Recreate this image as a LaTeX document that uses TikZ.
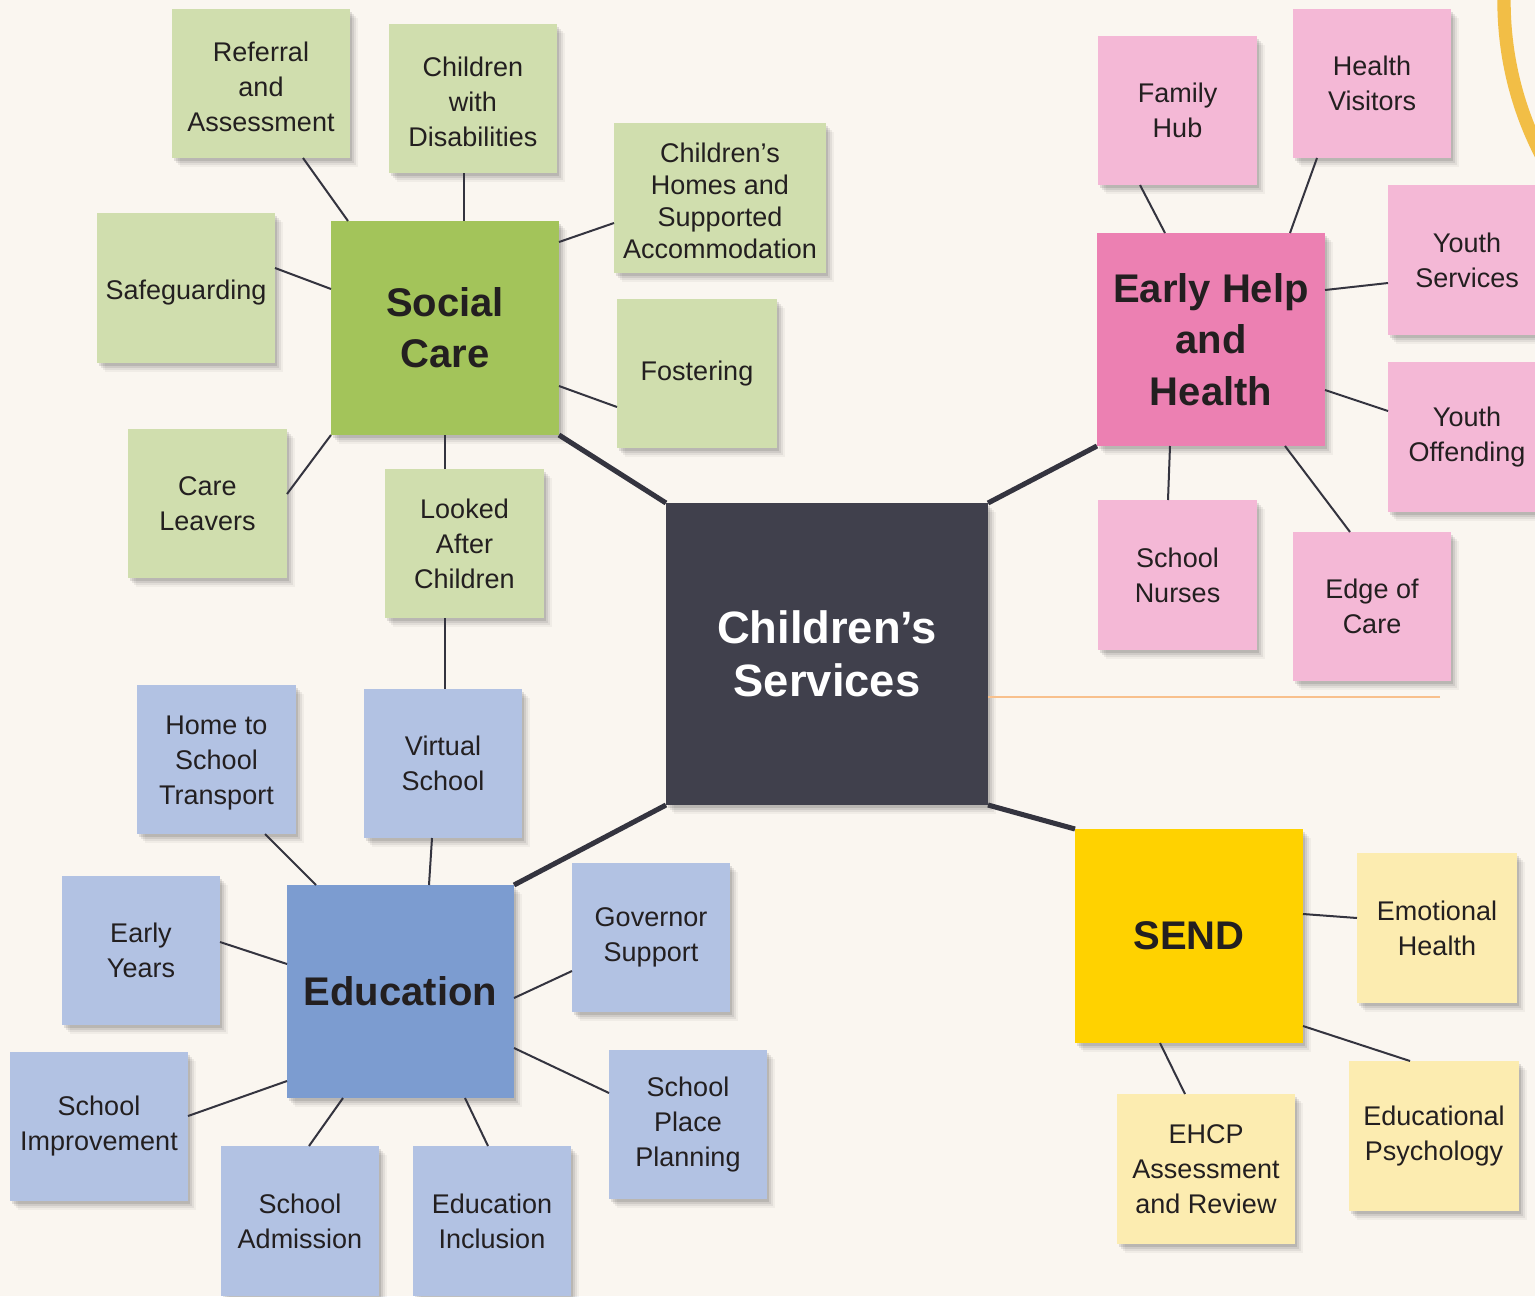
\documentclass[tikz,border=0pt]{standalone}
\usepackage{fontspec}
\setmainfont{Liberation Sans}
\usetikzlibrary{shadows}
\definecolor{bg}{HTML}{FAF6F0}
\definecolor{txt}{HTML}{231F20}
\definecolor{conn}{HTML}{34343F}
\definecolor{csdark}{HTML}{40404C}
\definecolor{gmain}{HTML}{A3C45A}
\definecolor{glight}{HTML}{D0DEAE}
\definecolor{pmain}{HTML}{EC80B2}
\definecolor{plight}{HTML}{F4B8D6}
\definecolor{bmain}{HTML}{7C9CD0}
\definecolor{blight}{HTML}{B2C2E3}
\definecolor{ymain}{HTML}{FFD200}
\definecolor{ylight}{HTML}{FCECB0}
\definecolor{arccol}{HTML}{F2BE46}
\definecolor{orangeline}{HTML}{F8C08C}
\newcommand{\subfont}{\fontsize{20.25}{26.25}\selectfont}
\newcommand{\mainfont}{\fontsize{30}{38.5}\selectfont\bfseries}
\newcommand{\csfont}{\fontsize{34}{40}\selectfont\bfseries}
% \bx{name}{x1}{y1}{x2}{y2}{style}{text}  (pixel corners)
\newcommand{\bx}[7]{%
  \pgfmathsetmacro{\bxw}{(#4-#2)*0.75}%
  \pgfmathsetmacro{\bxh}{(#5-#3)*0.75}%
  \pgfmathsetmacro{\bxx}{(#2+#4)/2}%
  \pgfmathsetmacro{\bxy}{(#3+#5)/2}%
  \node[#6,minimum width=\bxw pt,minimum height=\bxh pt] (#1) at (\bxx,\bxy) {#7};}
\newcommand{\fs}{\rule{0pt}{19pt}}
\begin{document}
\begin{tikzpicture}[x=0.75pt,y=-0.75pt,
  shad/.style={
    general shadow={shadow xshift=1.5pt,shadow yshift=-2pt,fill=black,opacity=0.10},
    general shadow={shadow xshift=3pt,shadow yshift=-3.5pt,fill=black,opacity=0.08},
    general shadow={shadow xshift=4.5pt,shadow yshift=-5pt,fill=black,opacity=0.06},
    general shadow={shadow xshift=6pt,shadow yshift=-6.5pt,fill=black,opacity=0.04}},
  sub/.style={fill=#1,inner sep=0pt,outer sep=0pt,align=center,text=txt,font=\subfont,shad},
  mainbox/.style={fill=#1,inner sep=0pt,outer sep=0pt,align=center,text=txt,font=\mainfont,shad},
  csbox/.style={fill=csdark,inner sep=0pt,outer sep=0pt,align=center,text=white,font=\csfont,shad},
  thinline/.style={draw=conn,line width=1.5pt},
  thickline/.style={draw=conn,line width=3.8pt},
  arcline/.style={draw=arccol,line width=10pt},
  oline/.style={draw=orangeline,line width=1.3pt}]
\useasboundingbox (0,0) rectangle (1535,1296);
\clip (0,0) rectangle (1535,1296);
\fill[bg] (0,0) rectangle (1535,1296);
\draw[arcline] (1840,1) circle[radius=336];

% centre
\bx{cs}{666}{503}{988}{805}{csbox}{Children’s\\Services}
\coordinate (oend) at (1440,697);
\draw[oline] (cs.east |- 0,697) -- (oend);

% Social care
\bx{sc}{331}{221}{559}{435}{mainbox=gmain}{Social\\Care}
\bx{ref}{172}{9}{350}{158}{sub=glight}{\fs Referral\\and\\Assessment}
\bx{cwd}{389}{24}{557}{173}{sub=glight}{\fs Children\\with\\Disabilities}
\bx{homes}{614}{123}{826}{273}{sub=glight,font=\fontsize{20.25}{24}\selectfont}{\fs Children’s\\Homes and\\Supported\\Accommodation}
\bx{safe}{97}{213}{275}{363}{sub=glight}{\rule{0pt}{22pt}Safeguarding}
\bx{fost}{617}{299}{777}{448}{sub=glight}{Fostering}
\bx{care}{128}{429}{287}{578}{sub=glight}{Care\\Leavers}
\bx{lac}{385}{469}{544}{618}{sub=glight}{Looked\\After\\Children}

% Early help
\bx{eh}{1097}{233}{1325}{446}{mainbox=pmain}{Early Help\\and\\Health}
\bx{fh}{1098}{36}{1257}{185}{sub=plight}{Family\\Hub}
\bx{hv}{1293}{9}{1451}{158}{sub=plight}{Health\\Visitors}
\bx{ys}{1388}{185}{1546}{335}{sub=plight}{Youth\\Services}
\bx{yo}{1388}{362}{1546}{512}{sub=plight}{Youth\\Offending}
\bx{sn}{1098}{500}{1257}{650}{sub=plight}{School\\Nurses}
\bx{eoc}{1293}{532}{1451}{681}{sub=plight}{Edge of\\Care}

% Education
\bx{edu}{287}{885}{514}{1098}{mainbox=bmain}{Education}
\bx{hst}{137}{685}{296}{834}{sub=blight}{\fs Home to\\School\\Transport}
\bx{vs}{364}{689}{522}{838}{sub=blight}{Virtual\\School}
\bx{ey}{62}{876}{220}{1025}{sub=blight}{Early\\Years}
\bx{gov}{572}{863}{730}{1012}{sub=blight}{Governor\\Support}
\bx{si}{10}{1052}{188}{1201}{sub=blight}{School\\Improvement}
\bx{sa}{221}{1146}{379}{1296}{sub=blight}{School\\Admission}
\bx{ei}{413}{1146}{571}{1296}{sub=blight}{Education\\Inclusion}
\bx{spp}{609}{1050}{767}{1199}{sub=blight}{School\\Place\\Planning}

% SEND
\bx{send}{1075}{829}{1303}{1043}{mainbox=ymain}{SEND}
\bx{emo}{1357}{853}{1517}{1003}{sub=ylight}{Emotional\\Health}
\bx{psy}{1349}{1061}{1519}{1211}{sub=ylight}{Educational\\Psychology}
\bx{ehcp}{1117}{1094}{1295}{1244}{sub=ylight}{EHCP\\Assessment\\and Review}

% thick connectors
\draw[thickline] (sc.south east) -- (cs.north west);
\draw[thickline] (eh.south west) -- (cs.north east);
\draw[thickline] (edu.north east) -- (cs.south west);
\draw[thickline] (cs.south east) -- (send.north west);

% social care connectors
\draw[thinline] (ref.south -| 303,0) -- (sc.north -| 348,0);
\draw[thinline] (cwd.south -| 464,0) -- (sc.north -| 464,0);
\draw[thinline] (homes.west |- 0,223) -- (sc.east |- 0,242);
\draw[thinline] (safe.east |- 0,268) -- (sc.west |- 0,289);
\draw[thinline] (fost.west |- 0,407) -- (sc.east |- 0,386);
\draw[thinline] (care.east |- 0,494) -- (sc.south west);
\draw[thinline] (lac.north -| 445,0) -- (sc.south -| 445,0);
\draw[thinline] (lac.south -| 445,0) -- (vs.north -| 445,0);

% early help connectors
\draw[thinline] (fh.south -| 1140,0) -- (eh.north -| 1165,0);
\draw[thinline] (hv.south -| 1317,0) -- (eh.north -| 1290,0);
\draw[thinline] (ys.west |- 0,283) -- (eh.east |- 0,290);
\draw[thinline] (yo.west |- 0,411) -- (eh.east |- 0,390);
\draw[thinline] (sn.north -| 1168,0) -- (eh.south -| 1170,0);
\draw[thinline] (eoc.north -| 1350,0) -- (eh.south -| 1285,0);

% education connectors
\draw[thinline] (hst.south -| 265,0) -- (edu.north -| 316,0);
\draw[thinline] (vs.south -| 432,0) -- (edu.north -| 429,0);
\draw[thinline] (ey.east |- 0,942) -- (edu.west |- 0,964);
\draw[thinline] (gov.west |- 0,971) -- (edu.east |- 0,998);
\draw[thinline] (si.east |- 0,1116) -- (edu.west |- 0,1081);
\draw[thinline] (sa.north -| 309,0) -- (edu.south -| 343,0);
\draw[thinline] (ei.north -| 488,0) -- (edu.south -| 465,0);
\draw[thinline] (spp.west |- 0,1093) -- (edu.east |- 0,1048);

% SEND connectors
\draw[thinline] (emo.west |- 0,918) -- (send.east |- 0,914);
\draw[thinline] (psy.north -| 1410,0) -- (send.east |- 0,1026);
\draw[thinline] (ehcp.north -| 1185,0) -- (send.south -| 1160,0);
\end{tikzpicture}
\end{document}
